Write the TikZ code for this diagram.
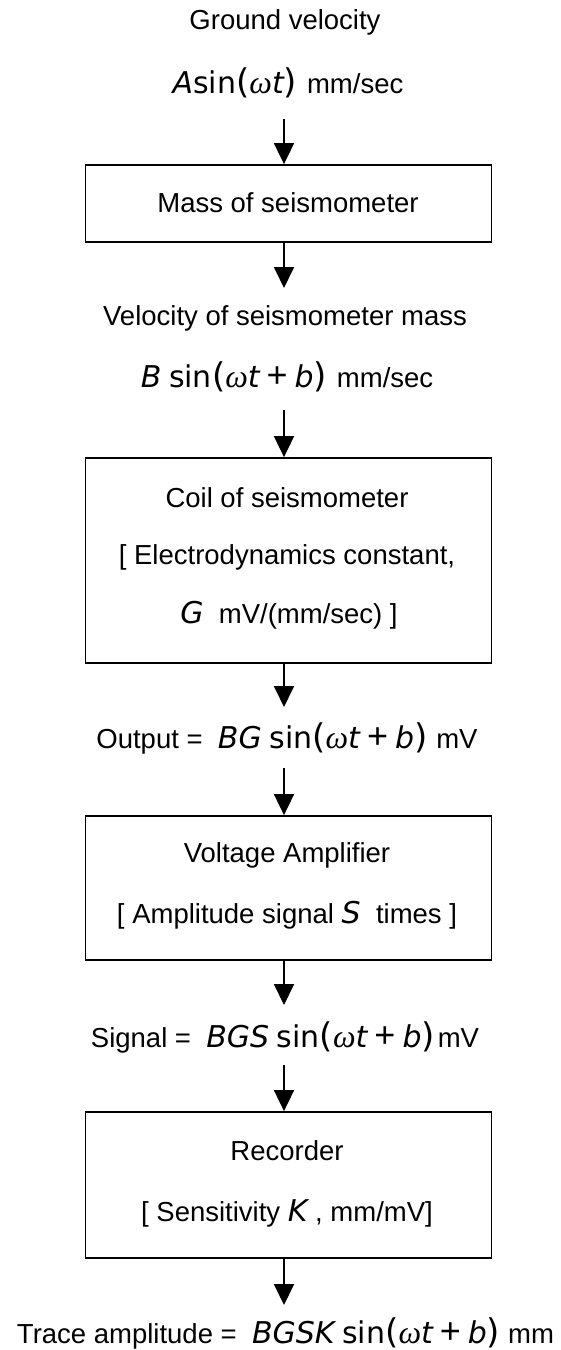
\documentclass[tikz,border=0pt]{standalone}
\usepackage{fontspec}
\setmainfont{Liberation Sans}
\newfontfamily\mfont{DejaVu Sans}
\newfontfamily\wfont{Liberation Serif}
\usetikzlibrary{arrows.meta}
\newcommand\msz{\fontsize{30}{36}\selectfont}
\newcommand\mi[1]{{\msz\mfont\itshape #1}}
\newcommand\msin{{\msz\mfont sin}}
\newcommand\mom{{\fontsize{32}{36}\selectfont\wfont\itshape ω}}
\newcommand\mlp{{\fontsize{34}{36}\selectfont\mfont(}}
\newcommand\mrp{{\fontsize{34}{36}\selectfont\mfont)}}
\newcommand\mplus{{\fontsize{36}{36}\selectfont\hspace{7pt}+\hspace{7pt}}}
\newcommand\mphase{\msin\mlp\mom\mi{t}\mplus\mi{b}\mrp}
\begin{document}
\begin{tikzpicture}[x=1pt,y=-1pt,
  font=\fontsize{27.5}{33}\selectfont,
  txt/.style={inner sep=0pt},
  box/.style={draw, line width=1.8pt, minimum width=406pt, inner sep=0pt},
  arr/.style={line width=1.8pt, -{Triangle[width=20pt,length=21pt]}}]
\useasboundingbox (0,0) rectangle (561,1350);

% top input
\node[txt] (gv) at (285,22) {Ground velocity};
\node[txt] (ga) at (288,83) {\mi{A}\msin\mlp\mom\mi{t}\mrp\hspace{10pt}mm/sec};
\coordinate (a1s) at (284,119);

% box 1
\node[box, minimum height=77pt] (b1) at (288.5,203.5) {};
\node[txt] (b1t) at (288,203) {Mass of seismometer};
\coordinate (a2e) at (284,288);

\node[txt] (vm) at (285,318) {Velocity of seismometer mass};
\node[txt] (vb) at (287,377) {\mi{B}\ \mphase\hspace{10pt}mm/sec};
\coordinate (a3s) at (284,410);

% box 2
\node[box, minimum height=205pt] (b2) at (288.5,560.5) {};
\node[txt] (b2a) at (287,498) {Coil of seismometer};
\node[txt] (b2b) at (287,557) {[ Electrodynamics constant,};
\node[txt] (b2c) at (289,615) {\mi{G}\ \ mV/(mm/sec) ]};
\coordinate (a4e) at (284,707);

\node[txt] (out) at (287,738) {Output =\ \ \mi{BG}\ \mphase\hspace{9pt}mV};
\coordinate (a5s) at (284,768);

% box 3
\node[box, minimum height=144pt] (b3) at (288.5,888) {};
\node[txt] (b3a) at (287,855) {Voltage Amplifier};
\node[txt] (b3b) at (287,915) {[ Amplitude signal\ \mi{S}\ \ times ]};
\coordinate (a6e) at (284,1005);

\node[txt] (sig) at (285,1037) {Signal =\ \ \mi{BGS}\ \mphase\hspace{3pt}mV};
\coordinate (a7s) at (284,1065);

% box 4
\node[box, minimum height=146pt] (b4) at (288.5,1185) {};
\node[txt] (b4a) at (287,1151) {Recorder};
\node[txt] (b4b) at (287,1213) {[ Sensitivity\ \mi{K}\ , mm/mV]};
\coordinate (a8e) at (284,1305);

\node[txt] (tr) at (285.5,1333) {Trace amplitude =\ \ \mi{BGSK}\ \mphase\hspace{8pt}mm};

% arrows
\draw[arr] (a1s) -- (b1.north -| a1s);
\draw[arr] (b1.south -| a2e) -- (a2e);
\draw[arr] (a3s) -- (b2.north -| a3s);
\draw[arr] (b2.south -| a4e) -- (a4e);
\draw[arr] (a5s) -- (b3.north -| a5s);
\draw[arr] (b3.south -| a6e) -- (a6e);
\draw[arr] (a7s) -- (b4.north -| a7s);
\draw[arr] (b4.south -| a8e) -- (a8e);
\end{tikzpicture}
\end{document}
